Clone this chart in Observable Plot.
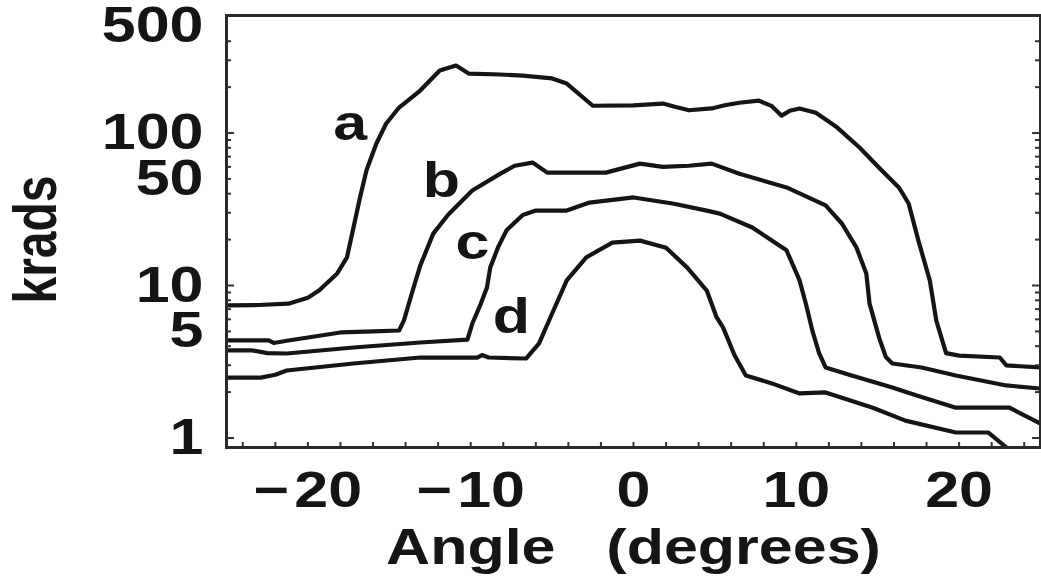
<!DOCTYPE html>
<html>
<head>
<meta charset="utf-8">
<script src="https://cdn.jsdelivr.net/npm/d3@7"></script>
<script src="https://cdn.jsdelivr.net/npm/@observablehq/plot@0.6"></script>
<style>
  html, body { margin: 0; padding: 0; background: #fff; }
</style>
</head>
<body>
<div id="chart"></div>
<script>
// Angle (degrees) vs krads, four curves a–d
const curveA = [[-25, 7.4], [-23, 7.45], [-21.2, 7.6], [-20, 8.3], [-19.3, 9.3], [-18.2, 12], [-17.6, 15.3], [-17.2, 24], [-16.8, 37.8], [-16.4, 57], [-15.8, 85], [-15.2, 115], [-14.4, 147], [-13.1, 190], [-11.9, 257], [-10.9, 277], [-10.1, 245], [-8.2, 242], [-6.8, 238], [-5.0, 228], [-4.1, 211], [-2.5, 151], [0, 152], [1.8, 156], [2.6, 148], [3.4, 141], [4.8, 145], [5.6, 152], [6.5, 158], [7.7, 163], [8.5, 150], [9.1, 130], [9.6, 140], [10.2, 145], [11.2, 136], [12.5, 109], [13.9, 80], [15.1, 59], [16.3, 44], [16.9, 34.5], [17.5, 19.7], [18.2, 10.8], [18.6, 5.89], [19.2, 3.6], [20.0, 3.47], [22.5, 3.37], [22.9, 2.99], [25, 2.9]];
const curveB = [[-25, 4.36], [-22.4, 4.36], [-22.1, 4.2], [-21.2, 4.36], [-18.0, 4.92], [-16, 5.0], [-14.4, 5.07], [-14.1, 5.9], [-13.6, 9], [-13.1, 13.5], [-12.3, 21.9], [-11.4, 29], [-10.7, 34.5], [-9.9, 42], [-8.2, 54], [-7.3, 61], [-6.2, 64], [-5.3, 55], [-1.7, 55], [0.4, 63], [1.8, 60], [3.4, 61], [4.8, 63], [6.5, 54], [9.4, 44], [11.8, 33.5], [12.8, 25.5], [13.7, 17.7], [14.3, 12], [14.5, 7.6], [15.1, 4.5], [15.5, 3.4], [15.9, 3.08], [17.7, 2.9], [19.8, 2.57], [22.9, 2.21], [25, 2.11]];
const curveC = [[-25, 3.75], [-23.4, 3.75], [-22.5, 3.6], [-21.3, 3.58], [-17.2, 3.92], [-13.1, 4.23], [-10.2, 4.42], [-9.9, 5.63], [-9.4, 7.5], [-9.0, 9.7], [-8.8, 13.1], [-8.3, 18], [-7.8, 23], [-6.8, 29], [-6.0, 31], [-4.1, 31], [-2.7, 35], [0, 37.8], [2.4, 34.5], [4.5, 31], [5.3, 29.6], [7.3, 24], [9.4, 17], [10.2, 10.8], [10.6, 7.5], [11.0, 5.0], [11.4, 3.6], [11.8, 2.9], [13.4, 2.57], [15.9, 2.14], [17.4, 1.9], [19.8, 1.58], [23.1, 1.58], [25, 1.24]];
const curveD = [[-25, 2.49], [-22.9, 2.49], [-22, 2.6], [-21.3, 2.77], [-17.2, 3.08], [-13.1, 3.37], [-9.6, 3.37], [-9.3, 3.5], [-8.9, 3.37], [-6.6, 3.32], [-5.8, 4.17], [-5.0, 6.55], [-4.1, 10.8], [-2.9, 15.3], [-1.3, 19.1], [0.4, 19.7], [2.0, 17.7], [3.3, 13.1], [4.5, 9.27], [5.1, 6.2], [5.5, 5.31], [6.2, 3.5], [6.9, 2.57], [8.5, 2.28], [10.2, 1.96], [11.8, 1.99], [14.7, 1.58], [16.7, 1.30], [19.8, 1.086], [21.8, 1.086], [23.0, 0.85]];

const seriesNames = ["a", "b", "c", "d"];
const seriesData = [curveA, curveB, curveC, curveD];
// label anchor positions for the curve letters
const letterX = [-17.4, -11.8, -9.9, -7.5];
const letterY = [114, 48.8, 19.1, 6.17];

const xLabelTicks = [-20, -10, 0, 10, 20];
const xMinorTicks = [-24, -22, -20, -18, -16, -14, -12, -10, -8, -6, -4, -2, 0, 2, 4, 6, 8, 10, 12, 14, 16, 18, 20, 22, 24];
const yLabelTicks = [1, 5, 10, 50, 100, 500];
const yMinorTicks = [2, 3, 4, 5, 6, 7, 8, 9, 20, 30, 40, 50, 60, 70, 80, 90, 200, 300, 400];
const yMajorTicks = [1, 10, 100];
const xTitle = "Angle\u00a0\u00a0\u00a0(degrees)";
const yTitle = "krads";

const W = 1041, H = 579;
const mL = 226, mR = 1, mT = 15, mB = 132;
const frameW = W - mL - mR, frameH = H - mT - mB;

const rows = seriesData.flatMap((s, i) => s.map(([x, y]) => ({series: seriesNames[i], x, y})));
const letters = seriesNames.map((n, i) => ({n, x: letterX[i], y: letterY[i]}));

const ink = "#151515";
const fmtX = d => d < 0 ? "\u2212\u200a" + (-d) : String(d);

const chart = Plot.plot({
  width: W, height: H,
  marginLeft: mL, marginRight: mR, marginTop: mT, marginBottom: mB,
  style: {background: "#fff", fontFamily: "'Liberation Sans', Arial, sans-serif", fontSize: "50px", fontWeight: "bold", color: ink},
  x: {domain: [-25, 25], label: null, axis: null},
  y: {type: "log", domain: [0.866, 590], label: null, axis: null},
  marks: [
    Plot.line(rows, {x: "x", y: "y", z: "series", stroke: ink, strokeWidth: 4.2, strokeLinejoin: "round", clip: true}),
    // inward minor ticks
    Plot.tickX(xMinorTicks, {x: d => d, insetTop: frameH - 5, stroke: "#333", strokeWidth: 2}),
    Plot.tickY(yMinorTicks, {y: d => d, insetRight: frameW - 5, stroke: "#333", strokeWidth: 2}),
    Plot.tickY(yMajorTicks, {y: d => d, insetRight: frameW - 8, stroke: "#333", strokeWidth: 2}),
    Plot.tickY(yMinorTicks, {y: d => d, insetLeft: frameW - 5, stroke: "#333", strokeWidth: 2}),
    Plot.tickY(yMajorTicks, {y: d => d, insetLeft: frameW - 8, stroke: "#333", strokeWidth: 2}),
    Plot.frame({stroke: "#2a2a2a", strokeWidth: 3}),
    // tick labels
    Plot.text(xLabelTicks, {x: d => d, text: fmtX, frameAnchor: "bottom", dy: 24, lineAnchor: "top", textAnchor: "middle", fill: ink}),
    Plot.text(yLabelTicks, {y: d => d, text: d => String(d), frameAnchor: "left", dx: -23, lineAnchor: "middle", textAnchor: "end", fill: ink}),
    // curve letters
    Plot.text(letters, {x: "x", y: "y", text: "n", textAnchor: "middle", lineAnchor: "middle", fill: ink}),
    // axis titles
    Plot.text([xTitle], {text: d => d, frameAnchor: "bottom", dy: 100, lineAnchor: "middle", textAnchor: "middle", fill: ink}),
    Plot.text([yTitle], {text: d => d, frameAnchor: "left", dx: -190, dy: 8, rotate: -90, lineAnchor: "middle", textAnchor: "middle", fontSize: 48, fill: ink})
  ]
});

// horizontal stretch of glyphs to match the reference's wide lettering
const S = 1.22;
chart.querySelectorAll("text").forEach(t => {
  const tr = t.getAttribute("transform") || "";
  const rotated = /rotate\(\s*-?90\s*\)/.test(tr);
  const sc = rotated ? `scale(1,1.28)` : `scale(${S},1)`;
  if (tr) t.setAttribute("transform", tr + " " + sc);
  else {
    const x = +t.getAttribute("x") || 0, y = +t.getAttribute("y") || 0;
    t.setAttribute("transform", `translate(${x},${y}) ${sc} translate(${-x},${-y})`);
  }
});

document.getElementById("chart").appendChild(chart);
</script>
</body>
</html>
